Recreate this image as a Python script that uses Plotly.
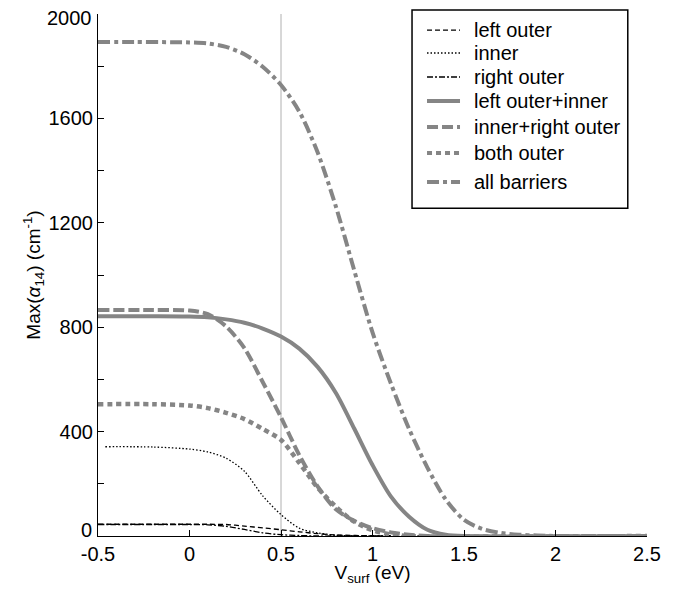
import plotly.graph_objects as go

# ---- data ----
left_outer_x = [-0.5, -0.2, 0.0, 0.1, 0.2, 0.3, 0.4, 0.5, 0.6, 0.7, 0.8, 1.0, 1.2, 1.5, 2.05]
left_outer_y = [45, 45, 45, 45, 44, 38, 31, 24, 16, 9, 4, 1, 0, 0, 0]

inner_x = [-0.46, -0.2, 0.0, 0.1, 0.2, 0.3, 0.4, 0.5, 0.6, 0.7, 0.8, 0.9, 1.1]
inner_y = [342, 341, 333, 322, 298, 248, 154, 82, 30, 12, 3, 0, 0]

right_outer_x = [-0.5, -0.2, 0.0, 0.1, 0.2, 0.3, 0.4, 0.5, 0.6, 0.7, 0.8, 1.1]
right_outer_y = [44, 44, 44, 43, 37, 25, 12, 5, 2, 0, 0, 0]

lo_inner_x = [-0.5, -0.2, 0.0, 0.1, 0.2, 0.3, 0.4, 0.5, 0.6, 0.7, 0.8, 0.9, 1.0, 1.1, 1.2, 1.3, 1.4, 1.5, 2.5]
lo_inner_y = [842, 842, 841, 838, 830, 817, 795, 764, 718, 648, 548, 412, 272, 152, 74, 24, 5, 0, 0]

inner_ro_x = [-0.5, -0.2, 0.0, 0.1, 0.2, 0.3, 0.4, 0.5, 0.6, 0.7, 0.8, 0.9, 1.0, 1.1, 1.2, 1.3, 2.5]
inner_ro_y = [866, 866, 864, 850, 803, 720, 590, 455, 310, 190, 102, 58, 30, 14, 5, 0, 0]

both_outer_x = [-0.5, -0.2, 0.0, 0.1, 0.2, 0.3, 0.4, 0.5, 0.6, 0.7, 0.8, 0.9, 1.0, 1.1, 1.2, 2.5]
both_outer_y = [505, 505, 500, 490, 472, 448, 410, 368, 280, 185, 112, 55, 22, 6, 0, 0]

all_x = [-0.5, -0.3, -0.1, 0.0, 0.1, 0.2, 0.3, 0.4, 0.5, 0.6, 0.7, 0.8, 0.9, 1.0,
         1.1, 1.2, 1.3, 1.4, 1.5, 1.6, 1.7, 1.8, 1.9, 2.0, 2.5]
all_y = [1893, 1893, 1892, 1891, 1887, 1874, 1846, 1798, 1728, 1626, 1470, 1262, 1018, 780,
         585, 410, 262, 140, 62, 27, 12, 5, 2, 0, 0]

vline_x = [0.5, 0.5]
vline_y = [0, 2000]

x_ticks = [-0.5, 0, 0.5, 1, 1.5, 2, 2.5]
x_ticktext = ["-0.5", "0", "0.5", "1", "1.5", "2", "2.5"]
y_ticks = [0, 200, 400, 600, 800, 1000, 1200, 1400, 1600, 1800, 2000]
y_ticktext = ["", "", "400", "", "800", "", "1200", "", "1600", "", "2000"]
y_end_labels = [(0, "0", 6), (2000, "2000", -4)]   # (value, text, vertical nudge px)

GRAY = "#858585"
FONT = "Liberation Sans, Arial, sans-serif"

fig = go.Figure()

fig.add_trace(go.Scatter(x=vline_x, y=vline_y, mode="lines", showlegend=False,
                         line=dict(color="#b0b0b0", width=1), hoverinfo="skip"))

series = [
    ("left outer", left_outer_x, left_outer_y, "black", 1.3, "5px,3px"),
    ("inner", inner_x, inner_y, "black", 1.3, "1.5px,2px"),
    ("right outer", right_outer_x, right_outer_y, "black", 1.3, "6px,2px,2px,2px"),
    ("left outer+inner", lo_inner_x, lo_inner_y, GRAY, 4, "solid"),
    ("inner+right outer", inner_ro_x, inner_ro_y, GRAY, 4, "11px,4px"),
    ("both outer", both_outer_x, both_outer_y, GRAY, 4.5, "5px,4px"),
    ("all barriers", all_x, all_y, GRAY, 4, "12px,4px,4px,4px"),
]
for name, xs, ys, col, w, dash in series:
    fig.add_trace(go.Scatter(x=xs, y=ys, mode="lines", name=name, showlegend=False,
                             line=dict(color=col, width=w, dash=dash, shape="spline", smoothing=0.8),
                             cliponaxis=False))

# legend: frame, sample lines and labels (paper coordinates)
legend_rows_y = [0.9693, 0.9253, 0.8793, 0.8333, 0.7835, 0.7337, 0.6782]
fig.add_shape(type="rect", xref="paper", yref="paper",
              x0=0.572, x1=0.965, y0=0.628, y1=1.0077,
              line=dict(color="black", width=1.5), fillcolor="white", layer="below")
for (name, xs, ys, col, w, dash), ry in zip(series, legend_rows_y):
    fig.add_shape(type="line", xref="paper", yref="paper",
                  x0=0.5993, x1=0.6594, y0=ry, y1=ry,
                  line=dict(color=col, width=min(w, 4), dash=dash))
    fig.add_annotation(text=name, xref="paper", yref="paper", x=0.681, y=ry,
                       xanchor="left", yanchor="middle", showarrow=False,
                       font=dict(size=20))

for val, txt, nudge in y_end_labels:
    fig.add_annotation(text=txt, xref="paper", yref="y", x=0, y=val,
                       xanchor="right", yanchor="middle", xshift=-4, yshift=nudge,
                       showarrow=False, font=dict(size=20))

fig.update_layout(
    width=661, height=578,
    margin=dict(l=90, r=22, t=6, b=50, autoexpand=False),
    paper_bgcolor="white", plot_bgcolor="rgba(0,0,0,0)",
    font=dict(family=FONT, size=20, color="black"),
    showlegend=False,
    xaxis=dict(range=[-0.5, 2.5], tickvals=x_ticks, ticktext=x_ticktext, automargin=False,
               ticks="inside", ticklen=6, tickcolor="black", showgrid=False, zeroline=False,
               showline=True, linecolor="black", linewidth=1.2,
               tickfont=dict(size=20),
               title=dict(text="V<sub>surf</sub> (eV)", font=dict(size=19), standoff=5)),
    yaxis=dict(range=[0, 2000], tickvals=y_ticks, ticktext=y_ticktext, automargin=False,
               ticks="inside", ticklen=6, tickcolor="black", showgrid=False, zeroline=False,
               showline=True, linecolor="black", linewidth=1.2,
               tickfont=dict(size=20),
               title=dict(text="Max(<i>α</i><sub>14</sub>) (cm<sup>-1</sup>)", font=dict(size=19), standoff=2)),
)

fig.write_html("out.html")
